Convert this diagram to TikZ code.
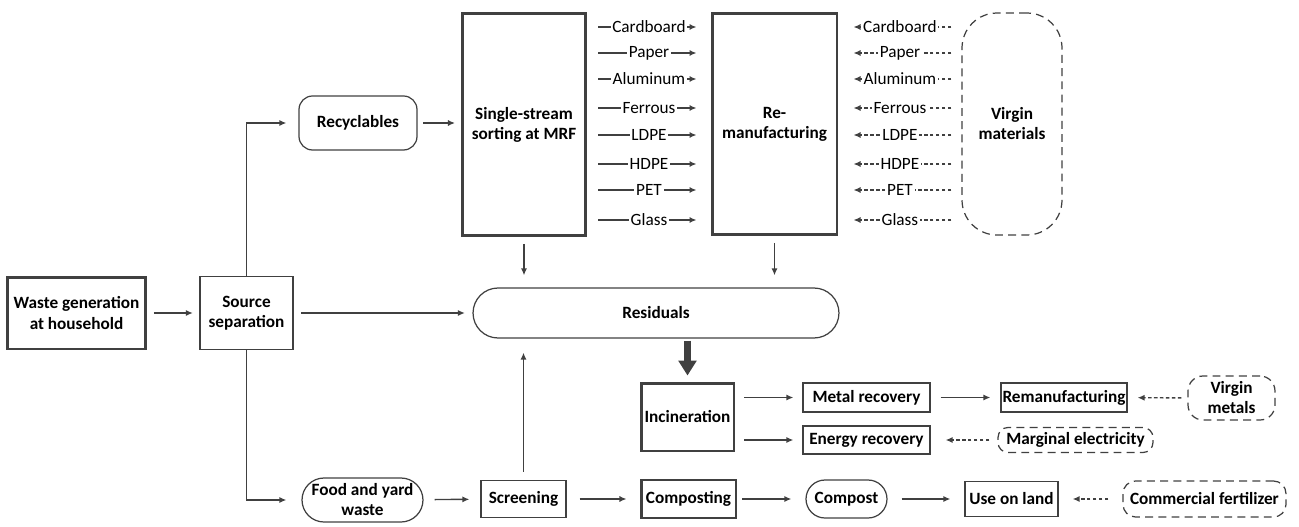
\documentclass[tikz,border=0pt]{standalone}
\usepackage{fontspec}
\setmainfont{Carlito}
\usepackage{tikz}
\usetikzlibrary{arrows.meta,positioning,calc}
\definecolor{edge}{HTML}{404040}

\begin{document}
\begin{tikzpicture}[
        x=0.02cm, y=-0.02cm,
        txt/.style={font=\fontsize{9.8}{11.4}\selectfont},
        box/.style={rectangle, draw=edge, line width=0.7pt, inner sep=0pt, align=center, txt, font=\fontsize{9.8}{11.4}\selectfont\bfseries},
        thickbox/.style={box, line width=1.7pt},
        pill/.style={box, rounded corners=#1},
        dpill/.style={box, rounded corners=#1, dash pattern=on 4.5pt off 3pt},
        arrow/.style={-{Latex[length=4pt,width=3.5pt]}, draw=edge, line width=0.8pt, shorten <=#1, shorten >=#1},
        arrow/.default=0.2cm,
        darrow/.style={arrow=#1, dash pattern=on 2pt off 1.4pt},
        darrow/.default=0.2cm,
        label/.style={txt, fill=white, inner sep=1pt, midway},
    ]

        \useasboundingbox (0,0) rectangle (1299,527);

        \node[thickbox, minimum width=2.78cm, minimum height=1.44cm] (waste) at (76.5,313) {Waste generation\\at household};
        \node[box, minimum width=1.86cm, minimum height=1.46cm] (source) at (246.5,313) {Source\\separation};
        \node[pill=0.27cm, minimum width=2.36cm, minimum height=1.08cm] (recyc) at (358,123) {Recyclables};
        \node[thickbox, minimum width=2.48cm, minimum height=4.46cm] (mrf) at (524,124.5) {Single-stream\\sorting at MRF};
        \node[thickbox, minimum width=2.50cm, minimum height=4.44cm] (reman) at (774.5,124) {Re-\\manufacturing};
        \node[dpill=0.7cm, minimum width=2.00cm, minimum height=4.44cm] (virgin) at (1012,124) {Virgin\\materials};
        \node[pill=0.5cm, minimum width=7.32cm, minimum height=1.00cm] (resid) at (656,313) {Residuals};
        \node[thickbox, minimum width=1.86cm, minimum height=1.36cm] (incin) at (687.5,417) {Incineration};
        \node[box, minimum width=2.54cm, minimum height=0.58cm] (metal) at (866.5,397.5) {Metal recovery};
        \node[box, minimum width=2.54cm, minimum height=0.56cm] (energy) at (866.5,440) {Energy recovery};
        \node[box, minimum width=2.52cm, minimum height=0.58cm] (remanuf) at (1064,397.5) {Remanufacturing};
        \node[dpill=0.3cm, minimum width=1.74cm, minimum height=0.88cm] (vmetal) at (1231.5,398) {Virgin\\metals};
        \node[dpill=0.2cm, minimum width=3.10cm, minimum height=0.50cm] (elec) at (1075.5,440) {Marginal electricity};
        \node[pill=0.44cm, minimum width=2.42cm, minimum height=0.88cm] (food) at (362.5,500) {Food and yard\\waste};
        \node[box, minimum width=1.70cm, minimum height=0.74cm] (screen) at (523.5,499) {Screening};
        \node[thickbox, minimum width=1.90cm, minimum height=0.76cm] (compbox) at (688.5,499) {Composting};
        \node[pill=0.38cm, minimum width=1.62cm, minimum height=0.76cm] (compost) at (846.5,499) {Compost};
        \node[box, minimum width=1.86cm, minimum height=0.70cm] (land) at (1011.5,499) {Use on land};
        \node[dpill=0.25cm, minimum width=3.26cm, minimum height=0.72cm] (fert) at (1204.5,499) {Commercial fertilizer};

        \draw[arrow=0.13cm, line width=1.4pt] (waste) -- (source);
        \draw[arrow=0pt, shorten >=0.24cm] (source.north) |- (recyc.west);
        \draw[arrow=0pt, shorten >=0.3cm] (source.south) |- (food.west);
        \draw[arrow=0.11cm] (recyc) -- (recyc -| mrf.west);
        \draw[arrow=0.15cm] (source) -- (resid);
        \draw[arrow=0.13cm, shorten >=0.24cm] (mrf.south) -- (mrf.south |- resid.north);
        \draw[arrow=0.13cm, shorten >=0.24cm] (reman.south) -- (reman.south |- resid.north);
        \draw[-{Triangle[length=8.5pt,width=10pt]}, draw=edge, line width=3.6pt, shorten <=0.04cm, shorten >=0.12cm] (resid.south -| incin) -- (incin.north);
        \draw[arrow=0.16cm, shorten >=0.28cm] (screen.north) -- (screen.north |- resid.south);

        \foreach \y/\m in {27/Cardboard, 53/Paper, 79/Aluminum, 108/Ferrous, 135/LDPE, 164/HDPE, 190/PET, 220/Glass} {
            \coordinate (m\y) at (0,\y);
            \draw[arrow=0.22cm, shorten >=0.28cm] (mrf.east |- m\y) -- (reman.west |- m\y) node[label] {\m};
            \draw[darrow=0.2cm, shorten >=0.3cm] (virgin.west |- m\y) -- (reman.east |- m\y) node[label] {\m};
        }

        \draw[arrow=0.18cm] (incin.east |- metal) -- (metal);
        \draw[arrow=0.18cm] (incin.east |- energy) -- (energy);
        \draw[arrow=0.2cm] (metal) -- (remanuf);
        \draw[darrow=0.12cm, shorten >=0.2cm] (vmetal) -- (remanuf);
        \draw[darrow=0.16cm, shorten >=0.3cm] (elec) -- (energy);

        \draw[arrow=0.22cm] (food) -- (screen);
        \draw[arrow=0.26cm] (screen) -- (compbox);
        \draw[arrow=0.1cm, shorten >=0.28cm] (compbox) -- (compost);
        \draw[arrow=0.28cm] (compost) -- (land);
        \draw[darrow=0.28cm] (fert) -- (land);

    \end{tikzpicture}
\end{document}
